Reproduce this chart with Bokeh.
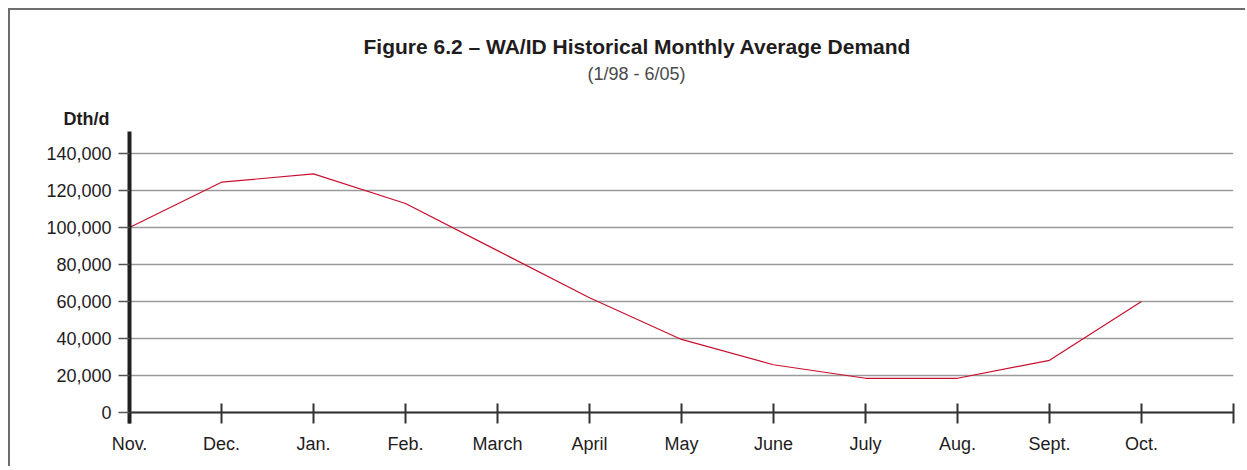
from bokeh.plotting import figure
from bokeh.models import Range1d, FixedTicker, Span, Title
from bokeh.embed import file_html
from bokeh.resources import INLINE

# ---- data ----
months = ["Nov.", "Dec.", "Jan.", "Feb.", "March", "April", "May", "June",
          "July", "Aug.", "Sept.", "Oct."]
demand = [100000, 124500, 129000, 113000, 87500, 62000, 39500, 25800,
          18500, 18500, 28200, 60000]
y_ticks = [0, 20000, 40000, 60000, 80000, 100000, 120000, 140000]
title_text = "Figure 6.2 \u2013 WA/ID Historical Monthly Average Demand"
subtitle_text = "(1/98 - 6/05)"
unit_text = "Dth/d"

# ---- layout constants (page pixels) ----
MARGIN = 8
BORDER = 2
OX, OY = MARGIN + BORDER, MARGIN + BORDER   # canvas origin on page
FRAME_L, FRAME_R = 129, 1233
FRAME_T, FRAME_B = 131, 423
ZERO_Y, TOP_Y = 412, 153                     # pixel of 0 and 140000
W, H = 1247 - OX, 460 - OY + MARGIN

px_per_unit = (ZERO_Y - TOP_Y) / 140000.0
y_start = -(FRAME_B - ZERO_Y) / px_per_unit
y_end = 140000 + (TOP_Y - FRAME_T) / px_per_unit

FONT = "Liberation Sans"
TXT = "#1f1c1d"

p = figure(width=W, height=H, output_backend="svg", toolbar_location=None,
           x_range=Range1d(0, 12), y_range=Range1d(y_start, y_end),
           min_border_left=FRAME_L - OX, min_border_right=OX + W - FRAME_R,
           min_border_top=FRAME_T - OY, min_border_bottom=OY + H - FRAME_B,
           title=Title(text=title_text, align="left", offset=234,
                       text_font=FONT, text_font_style="bold",
                       text_font_size="21px", text_color=TXT, standoff=5))
p.styles = {"margin-left": f"{MARGIN}px", "margin-top": f"{MARGIN}px",
            "border-left": f"{BORDER}px solid #6d6d6d",
            "border-top": f"{BORDER}px solid #6d6d6d"}
p.outline_line_color = None
p.background_fill_color = "white"
p.border_fill_color = "white"

# rows above the frame (first added = nearest the frame)
p.add_layout(Title(text=unit_text, align="left", offset=-66,
                   text_font=FONT, text_font_style="bold", text_font_size="18px",
                   text_color=TXT, standoff=6), "above")
p.add_layout(Title(text=" ", text_font=FONT, text_font_size="16px", standoff=0), "above")
p.add_layout(Title(text=subtitle_text, align="left", offset=458,
                   text_font=FONT, text_font_style="normal", text_font_size="18px",
                   text_color="#4a4a4a", standoff=2), "above")

# grid
p.xgrid.visible = False
p.ygrid.ticker = FixedTicker(ticks=y_ticks)
p.ygrid.grid_line_color = "#9a9a9a"
p.ygrid.grid_line_width = 1.5

# y axis
ya = p.yaxis[0]
ya.ticker = FixedTicker(ticks=y_ticks)
ya.major_label_overrides = {v: f"{v:,}" for v in y_ticks}
ya.axis_line_color = "#231f20"
ya.axis_line_width = 4
ya.major_tick_out = 11
ya.major_tick_in = 0
ya.major_tick_line_color = "#555555"
ya.major_tick_line_width = 1.5
ya.minor_tick_line_color = None
ya.major_label_standoff = 7
ya.major_label_text_font = FONT
ya.major_label_text_font_size = "18px"
ya.major_label_text_color = TXT

# x axis
xa = p.xaxis[0]
xt = list(range(len(months) + 1))
xa.ticker = FixedTicker(ticks=xt)
xa.major_label_overrides = {i: (months[i] if i < len(months) else "") for i in xt}
xa.axis_line_color = None
xa.major_tick_in = 20
xa.major_tick_out = 0
xa.major_tick_line_color = "#333333"
xa.major_tick_line_width = 2
xa.minor_tick_line_color = None
xa.major_label_standoff = 10
xa.major_label_text_font = FONT
xa.major_label_text_font_size = "18px"
xa.major_label_text_color = TXT

# zero line (x axis line)
p.add_layout(Span(location=0, dimension="width", line_color="#333333", line_width=2))

# data line
p.line(list(range(len(months))), demand, line_color="#c8102e", line_width=1.2)

open("out.html", "w").write(file_html(p, INLINE))
